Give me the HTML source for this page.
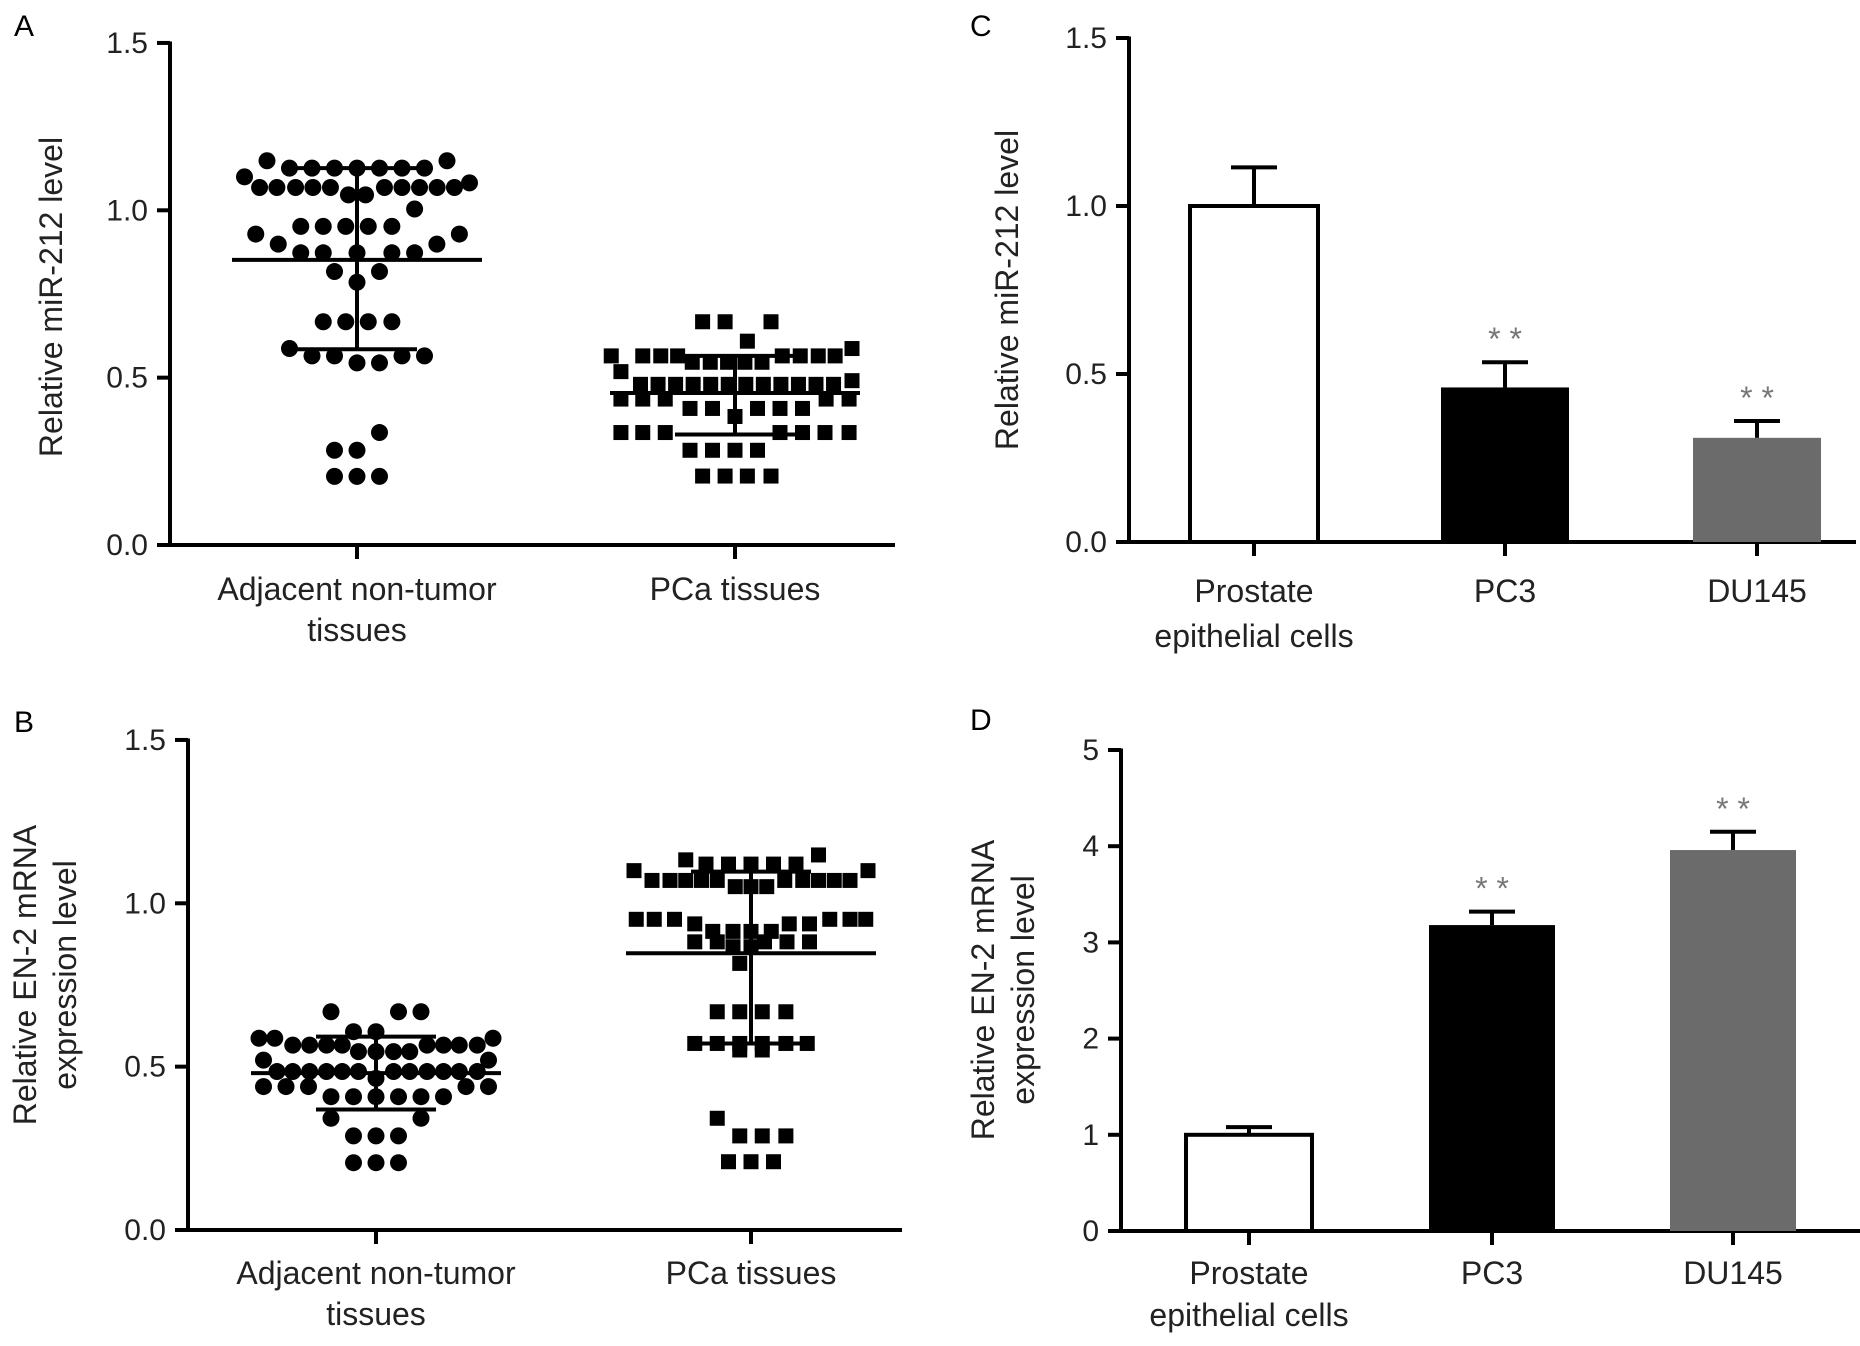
<!DOCTYPE html>
<html><head><meta charset="utf-8">
<style>
html,body{margin:0;padding:0;background:#fff;}
svg{display:block;font-family:"Liberation Sans",Arial,sans-serif;}
</style></head>
<body>
<svg id="fig" width="1860" height="1346" viewBox="0 0 1860 1346" xmlns="http://www.w3.org/2000/svg">
<text x="14" y="36" font-size="30">A</text>
<text x="14" y="732" font-size="30">B</text>
<text x="970" y="36" font-size="30">C</text>
<text x="970" y="730" font-size="30">D</text>
</svg>
<script>
// ---------- Panel A data ----------
const aCircleVals = [1.148,1.148,1.126,1.126,1.126,1.126,1.126,1.126,1.126,1.10,1.082,1.068,1.068,1.068,1.068,1.068,1.068,1.068,1.068,1.068,1.068,1.046,1.046,1.004,0.952,0.952,0.952,0.952,0.952,0.929,0.929,0.899,0.899,0.873,0.873,0.873,0.873,0.873,0.817,0.817,0.785,0.667,0.667,0.667,0.667,0.587,0.565,0.565,0.544,0.544,0.565,0.565,0.336,0.283,0.283,0.205,0.205,0.205];
const aCircleSlots = [-4,4,-3,-2,-1,0,1,2,3,-5,5,-4.33,-3.56,-2.73,-1.96,-1.18,1.22,2,2.78,3.56,4.33,-0.38,0.38,2.56,-2.5,-1.5,-0.5,0.5,1.55,-4.5,4.55,-3.5,3.55,-2.5,-1.5,0,1.55,2.56,-1,1,0,-1.5,-0.5,0.5,1.55,-3,-2,-1,0,1,2,3,1,-1,0,-1,0,1];
const aSquareVals = [0.667,0.667,0.667,0.609,0.587,0.565,0.565,0.565,0.565,0.565,0.565,0.565,0.565,0.546,0.546,0.546,0.546,0.546,0.518,0.491,0.48,0.48,0.48,0.48,0.48,0.48,0.48,0.48,0.48,0.48,0.48,0.48,0.436,0.436,0.436,0.436,0.436,0.408,0.408,0.408,0.408,0.408,0.384,0.336,0.336,0.336,0.336,0.336,0.336,0.336,0.283,0.283,0.283,0.283,0.206,0.206,0.206,0.206];
const aSquareSlots = [-1.44,-0.44,1.6,0.55,5.2,-5.5,-4.1,-3.3,-2.55,2.1,2.9,3.7,4.45,-1.9,-1.1,-0.33,0.44,1.2,-5.07,5.2,-4.2,-3.42,-2.64,-1.86,-1.08,-0.3,0.48,1.26,2.04,2.82,3.6,4.38,-5.07,-4.1,-3.1,4.05,5.07,-2,-1,1,2,3,0,-5.07,-4.1,-3.1,2,3,4,5.07,-2,-1,0,1,-1.44,-0.44,0.55,1.6];
const aStats = [[0.852,1.126,0.585],[0.454,0.565,0.33]]; // mean, upper, lower
// ---------- Panel B data ----------
const bCircleVals = [0.668,0.668,0.668,0.607,0.607,0.587,0.587,0.587,0.566,0.566,0.566,0.566,0.566,0.566,0.566,0.566,0.546,0.546,0.546,0.546,0.52,0.52,0.485,0.485,0.485,0.485,0.485,0.485,0.485,0.485,0.485,0.485,0.485,0.485,0.464,0.439,0.439,0.439,0.439,0.439,0.408,0.408,0.408,0.408,0.408,0.408,0.342,0.342,0.288,0.288,0.288,0.206,0.206,0.206];
const bCircleSlots = [-2,1,2,-1,0,-5.2,-4.5,5.2,-3.7,-2.95,-2.2,-1.5,2.27,3,3.7,4.5,-0.78,0,0.78,1.5,-5,5,-4.4,-3.7,-2.95,-2.2,-1.5,-0.78,0.78,1.5,2.27,3,3.7,4.5,0,-5,-4,-3,4,5,-2,-1,0,1,2,3,-2,2,-1,0,1,-1,0,1];
const bSquareVals = [1.148,1.133,1.12,1.12,1.12,1.12,1.12,1.1,1.1,1.07,1.07,1.07,1.07,1.07,1.07,1.07,1.07,1.07,1.07,1.051,1.051,1.051,0.951,0.951,0.951,0.951,0.951,0.951,0.937,0.937,0.937,0.914,0.914,0.914,0.914,0.882,0.882,0.882,0.882,0.882,0.867,0.867,0.816,0.668,0.668,0.668,0.668,0.571,0.571,0.571,0.571,0.571,0.571,0.551,0.551,0.342,0.288,0.288,0.288,0.209,0.209,0.209];
const bSquareSlots = [3,-2.9,-2,-1,0,1,2,-5.2,5.2,-4.4,-3.6,-2.9,-2.2,-1.5,1.5,2.3,3,3.7,4.4,-0.7,0,0.7,-5.1,-4.3,-3.4,3.5,4.4,5.1,-2.5,1.7,2.6,-1.7,-0.8,0,0.9,-2.5,-1.5,0.6,1.6,2.6,-0.8,0,-0.5,-1.5,-0.5,0.5,1.55,-2.5,-1.5,-0.5,0.5,1.55,2.5,-0.5,0.5,-1.5,-0.5,0.5,1.55,-1,0,1];
const bStats = [[0.480,0.592,0.369],[0.847,1.097,0.571]];
// ---------- Panels C/D data ----------
const barCats = ["Prostate|epithelial cells","PC3","DU145"];
const cVals = [1.0,0.46,0.31];
const cErr = [0.115,0.075,0.05];
const cStars = ["","* *","* *"];
const cTicks = ["0.0","0.5","1.0","1.5"];
const dVals = [1.0,3.18,3.96];
const dErr = [0.08,0.14,0.19];
const dStars = ["","* *","* *"];
const dTicks = ["0","1","2","3","4","5"];
const scatterTicks = ["0.0","0.5","1.0","1.5"];

const svg = document.getElementById('fig');
const NS = 'http://www.w3.org/2000/svg';
function mk(tag, attrs){const e=document.createElementNS(NS,tag);for(const k in attrs)e.setAttribute(k,attrs[k]);svg.appendChild(e);return e;}
function line(x1,y1,x2,y2,w,name){const e=mk('line',{x1,y1,x2,y2,stroke:'#000','stroke-width':w});

return e;}
function txt(x,y,s,size,anchor,name,extra){const e=mk('text',Object.assign({x,y,'font-size':size,'text-anchor':anchor,fill:'#222'},extra||{}));e.textContent=s;

return e;}

function axes(P, ticks, tickStep, cats, title){
  const yS = v => P.y0 - v*P.k;
  line(P.ax,P.y0+1.5,P.ax,yS(tickStep*(ticks.length-1))-1.5,4,'y-axis');
  line(P.ax-2,P.y0,P.xEnd,P.y0,4,'x-axis');
  ticks.forEach((t,i)=>{const y=yS(i*tickStep);line(P.ax-13,y,P.ax,y,4,'y-tick');txt(P.ax-22,y+10,t,30,'end','y-tick-label');});
  cats.forEach((c,i)=>{const x=P.cx[i];line(x,P.y0,x,P.y0+14,4,'x-tick');
    const parts=c.split('|');parts.forEach((p,j)=>txt(x,P.labY+j*P.labGap,p,32,'middle','x-category-label'));});
  title.lines.forEach((s,j)=>txt(0,0,s,32,'middle','y-axis-title',{transform:`translate(${title.x+j*title.gap},${title.y}) rotate(-90)`}));
  return yS;
}

function scatter(P, vals, slots, shape, cxIdx, stats){
  const yS = v => P.y0 - v*P.k;
  const cx = P.cx[cxIdx];
  vals.forEach((v,i)=>{const x=cx+slots[i]*22.5,y=yS(v);let e;
    if(shape==='circle'){e=mk('circle',{cx:x,cy:y,r:8.5,fill:'#000'});}
    else {e=mk('rect',{x:x-7.5,y:y-7.5,width:15,height:15,fill:'#000'});}
    
    
  });
  const [m,u,l]=stats;
  line(cx-125,yS(m),cx+125,yS(m),4,'mean-line');
  line(cx,yS(u),cx,yS(l),4,'sd-bar');
  line(cx-60,yS(u),cx+60,yS(u),4,'sd-cap-upper');
  line(cx-60,yS(l),cx+60,yS(l),4,'sd-cap-lower');
}

function bars(P, vals, errs, stars, fills, bw){
  const yS = v => P.y0 - v*P.k;
  vals.forEach((v,i)=>{const x=P.cx[i];const top=yS(v);
    const r=mk('rect',{x:x-bw/2,y:top,width:bw,height:P.y0-top,fill:fills[i],stroke:'#000','stroke-width':fills[i]==='#fff'?4:0});
    
    
    const et=yS(v+errs[i]);
    line(x,top,x,et,4,'error-bar');
    line(x-23,et,x+23,et,4,'error-cap');
    if(stars[i]) txt(x,et-12,stars[i],32,'middle','significance-stars',{fill:'#777'});
  });
}

// Panel A
const PA={ax:170,y0:545,k:334.7,xEnd:895,cx:[357,735],labY:600,labGap:41};
axes(PA,scatterTicks,0.5,["Adjacent non-tumor|tissues","PCa tissues"],{lines:["Relative miR-212 level"],x:62,y:297,gap:0});
scatter(PA,aCircleVals,aCircleSlots,'circle',0,aStats[0]);
scatter(PA,aSquareVals,aSquareSlots,'square',1,aStats[1]);

// Panel B
const PB={ax:188,y0:1230,k:326.7,xEnd:902,cx:[376,751],labY:1284,labGap:41};
axes(PB,scatterTicks,0.5,["Adjacent non-tumor|tissues","PCa tissues"],{lines:["Relative EN-2 mRNA","expression level"],x:36,y:975,gap:40});
scatter(PB,bCircleVals,bCircleSlots,'circle',0,bStats[0]);
scatter(PB,bSquareVals,bSquareSlots,'square',1,bStats[1]);

// Panel C
const PC={ax:1129,y0:542,k:336,xEnd:1856,cx:[1254,1505,1757],labY:602,labGap:45};
axes(PC,cTicks,0.5,barCats,{lines:["Relative miR-212 level"],x:1018,y:290,gap:0});
bars(PC,cVals,cErr,cStars,['#fff','#000','#6b6b6b'],128);

// Panel D
const PD={ax:1121,y0:1231,k:96.2,xEnd:1860,cx:[1249,1492,1733],labY:1284,labGap:42};
axes(PD,dTicks,1,barCats,{lines:["Relative EN-2 mRNA","expression level"],x:994,y:990,gap:40});
bars(PD,dVals,dErr,dStars,['#fff','#000','#6b6b6b'],126);
</script>
</body></html>
